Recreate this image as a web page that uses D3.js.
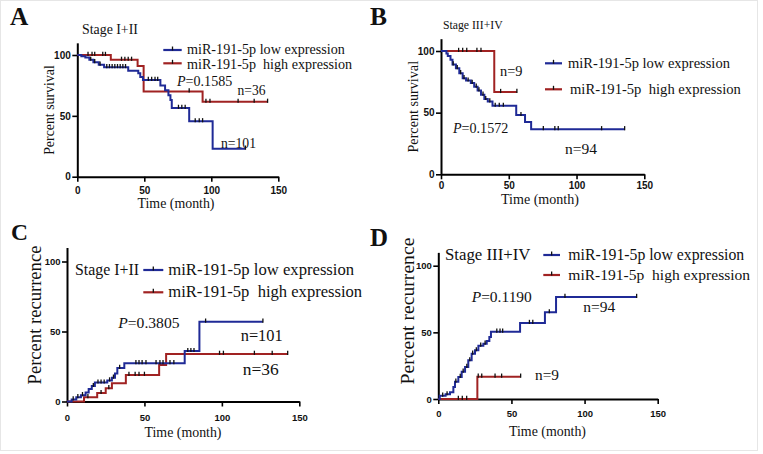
<!DOCTYPE html>
<html><head><meta charset="utf-8">
<script src="https://cdn.jsdelivr.net/npm/d3@7"></script>
<style>body{margin:0;background:#fff}svg{display:block}text{white-space:pre}</style>
</head><body><svg id="c" width="763" height="454"></svg>
<script>
// ---------------- data ----------------
const xTickValues = [0, 50, 100, 150];
const yTickValues = [0, 50, 100];
const lowLabel = "miR-191-5p low expression";
const highLabel = "miR-191-5p  high expression";
const stageEarly = "Stage I+II";
const stageLate = "Stage III+IV";

// A: survival, stage I+II
const aLowTime = [0, 3, 6, 9, 12, 16, 20, 38, 45.5, 47, 49, 62, 65.5, 68, 69.5, 70.5, 83.5, 101, 125.5];
const aLowPct  = [100, 99, 98, 96, 94, 92, 90, 87, 85, 82, 79.5, 75, 71, 67, 63, 56.5, 45.5, 23, 23];
const aLowCensor = [10, 13, 17, 22, 24, 26, 28, 30, 32, 34, 36, 53, 55.5, 58, 60, 75.5, 78, 80.5, 88, 91, 93.5, 125.5];
const aHighTime = [0, 25, 45, 49.5, 93.5, 142];
const aHighPct  = [100, 96, 91, 70, 61.5, 61.5];
const aHighCensor = [8, 11, 13, 19, 21, 33, 35.5, 38, 40.5, 83.5, 96, 99, 120, 132, 142];

// B: survival, stage III+IV
const bLowTime = [0, 4, 5, 7, 8.5, 11, 13.5, 16, 18.5, 22, 24.5, 27, 29.5, 32, 34.5, 38, 55.5, 62, 66.5, 135.5];
const bLowPct  = [100, 98, 96, 93, 89, 86, 82, 78, 76, 74, 71, 68, 64.5, 61, 59, 55.5, 48, 42.5, 36.5, 36.5];
const bLowCensor = [9, 12, 14.5, 17, 20, 23, 26, 28, 31, 33, 36, 40, 43, 46, 59, 75.5, 84, 86.5, 118.5, 135.5];
const bHighTime = [0, 39.3, 56];
const bHighPct  = [100, 66.7, 66.7];
const bHighCensor = [13, 16, 19, 26.5, 29.5, 44, 56];

// C: recurrence, stage I+II
const cLowTime = [0, 3, 6, 9, 12, 14, 16, 18, 26, 29, 31, 32.5, 37, 76, 85.5, 126.5];
const cLowPct  = [0, 1.5, 3, 4.5, 6.5, 9, 11, 13.5, 15, 17, 20, 24, 27.4, 36, 57, 57];
const cLowCensor = [4, 7, 10, 17, 20, 22, 24, 27.5, 30, 34, 44.5, 46.5, 48.5, 51, 57.5, 60, 62, 66.5, 69, 78, 80, 82, 89.5, 126.5];
const cHighTime = [0, 11, 19.5, 25, 29, 38, 59.5, 64, 142.5];
const cHighPct  = [0, 3, 6, 9.5, 13, 19, 26, 34, 34];
const cHighCensor = [13.5, 22, 27, 40, 44, 46.5, 50, 98.5, 101, 121, 132.5, 142.5];

// D: recurrence, stage III+IV
const dLowTime = [0, 1, 5, 8, 10.3, 11.4, 13.7, 16, 18.3, 20.5, 22.8, 25.1, 27.4, 30.8, 33.1, 34.9, 36, 55.9, 72.9, 80.5, 135.6];
const dLowPct  = [0, 2.5, 3.5, 5, 9, 13, 16.5, 20.5, 24, 29, 34, 36.5, 40, 41.5, 43.5, 46.5, 50.5, 57, 65, 76.5, 76.5];
const dLowCensor = [3, 6, 12, 15, 17, 19.5, 21.5, 23.5, 26, 29, 32, 40, 42.2, 44, 62.3, 64.6, 75.9, 86.6, 135.6];
const dHighTime = [0, 26.7, 56.3];
const dHighPct  = [0, 16.7, 16.7];
const dHighCensor = [13.7, 16.4, 19.4, 27.3, 29.7, 38.8, 43.3, 56.3];

// ---------------- drawing ----------------
const BLUE = "#1f2a96", RED = "#a02222";
const SERIF = "'Liberation Serif','Times New Roman',serif";
const SANS = "'Liberation Sans',Arial,sans-serif";
const svg = d3.select("#c");
svg.append("rect").attr("x", 0.5).attr("y", 0.5).attr("width", 757).attr("height", 450)
  .attr("fill", "#fff").attr("stroke", "#e6e6e6");

function fitText(sel, target) {
  const w = sel.node().getBBox().width;
  if (w > 0) sel.attr("font-size", 20 * target / w);
  return sel;
}
function label(s, x, y, w, o = {}) {
  const t = svg.append("text").attr("x", x).attr("y", y)
    .attr("font-family", o.family || SERIF).attr("font-size", 20)
    .attr("font-weight", o.bold ? "bold" : "normal").attr("fill", "#111")
    .attr("text-anchor", o.anchor || "start");
  if (o.pval) {
    t.append("tspan").attr("font-style", "italic").text("P");
    t.append("tspan").text("=" + s);
  } else t.text(s);
  fitText(t, w);
  if (o.rotate) t.attr("transform", `rotate(-90 ${x} ${y})`);
  return t;
}

const panels = [
  { x0: 77.3, x1: 278.3, y0: 176.7, y100: 55, tickFs: 10, xlabOff: 14,
    low: [aLowTime, aLowPct, aLowCensor], high: [aHighTime, aHighPct, aHighCensor] },
  { x0: 441, x1: 644.3, y0: 174.3, y100: 51, tickFs: 10, xlabOff: 12,
    low: [bLowTime, bLowPct, bLowCensor], high: [bHighTime, bHighPct, bHighCensor] },
  { x0: 67, x1: 299.3, y0: 401.5, y100: 261.5, tickFs: 9.5, xlabOff: 17,
    low: [cLowTime, cLowPct, cLowCensor], high: [cHighTime, cHighPct, cHighCensor] },
  { x0: 438.3, x1: 657.7, y0: 399, y100: 265.7, tickFs: 9.5, xlabOff: 15,
    low: [dLowTime, dLowPct, dLowCensor], high: [dHighTime, dHighPct, dHighCensor] }
];

function stepValue(times, vals, t) {
  let v = vals[0];
  for (let i = 0; i < times.length; i++) if (times[i] <= t) v = vals[i];
  return v;
}

panels.forEach(p => {
  const x = d3.scaleLinear().domain([0, 150]).range([p.x0, p.x1]);
  const y = d3.scaleLinear().domain([0, 110]).range([p.y0, p.y0 - 1.1 * (p.y0 - p.y100)]);
  const g = svg.append("g");

  const ya = g.append("g").attr("transform", `translate(${p.x0},0)`)
    .call(d3.axisLeft(y).tickValues(yTickValues).tickSize(5).tickSizeOuter(0).tickPadding(1.5));
  const xa = g.append("g").attr("transform", `translate(0,${p.y0})`)
    .call(d3.axisBottom(x).tickValues(xTickValues).tickSize(5).tickSizeOuter(0).tickPadding(p.xlabOff - 9));
  [ya, xa].forEach(a => {
    a.select(".domain").attr("stroke", "#000").attr("stroke-width", 2);
    a.selectAll(".tick line").attr("stroke", "#000").attr("stroke-width", 1.6);
    a.selectAll(".tick text").attr("font-family", SANS).attr("font-weight", "bold")
      .attr("font-size", p.tickFs).attr("fill", "#111");
  });

  const line = d3.line().x(d => x(d[0])).y(d => y(d[1])).curve(d3.curveStepAfter);
  [["high", RED], ["low", BLUE]].forEach(([k, col]) => {
    const [tt, vv, cc] = p[k];
    const pts = tt.map((t, i) => [t, vv[i]]);
    g.append("path").attr("d", line(pts)).attr("fill", "none")
      .attr("stroke", col).attr("stroke-width", 2);
    g.selectAll(null).data(cc).enter().append("line")
      .attr("x1", d => x(d)).attr("x2", d => x(d))
      .attr("y1", d => y(stepValue(tt, vv, d)) - 3.2)
      .attr("y2", d => y(stepValue(tt, vv, d)) + 1)
      .attr("stroke", "#111").attr("stroke-width", 1.3);
  });
});

function legendSample(x1, x2, yy, col) {
  svg.append("line").attr("x1", x1).attr("x2", x2).attr("y1", yy).attr("y2", yy)
    .attr("stroke", col).attr("stroke-width", 2.2);
  const m = (x1 + x2) / 2;
  svg.append("line").attr("x1", m).attr("x2", m).attr("y1", yy - 3.5).attr("y2", yy + 0.5)
    .attr("stroke", "#111").attr("stroke-width", 1.3);
}

// panel letters
label("A", 10, 25, 19, { bold: true });
label("B", 370, 25, 17, { bold: true });
label("C", 11, 240, 17, { bold: true });
label("D", 370, 246, 18, { bold: true });

// Panel A texts
label(stageEarly, 82, 33.5, 56);
legendSample(163.3, 181.7, 50, BLUE);
legendSample(163.3, 181.7, 63.3, RED);
label(lowLabel, 187, 54, 158);
label(highLabel, 187, 68.5, 165);
label("0.1585", 177, 86, 56, { pval: true });
label("n=36", 237.5, 95, 28);
label("n=101", 221, 148.3, 35);
label("Percent survival", 54, 110, 90, { rotate: true, anchor: "middle" });
label("Time (month)", 176, 207.5, 77, { anchor: "middle" });

// Panel B texts
label(stageLate, 443, 29.3, 60);
legendSample(545, 562, 63.3, BLUE);
legendSample(545, 562, 89.3, RED);
label(lowLabel, 568, 67.7, 162);
label(highLabel, 570, 94.3, 171);
label("n=9", 500, 76, 22.5);
label("0.1572", 453, 132.7, 56, { pval: true });
label("n=94", 565, 154, 32);
label("Percent survival", 418, 106.7, 92, { rotate: true, anchor: "middle" });
label("Time (month)", 540, 203.5, 78, { anchor: "middle" });

// Panel C texts
label(stageEarly, 75, 275, 64);
legendSample(143.3, 163.3, 270, BLUE);
legendSample(143.3, 163.3, 292.3, RED);
label(lowLabel, 168.3, 275, 186);
label(highLabel, 168.3, 296.7, 194);
label("0.3805", 118.3, 328.3, 62, { pval: true });
label("n=101", 240.7, 341, 42);
label("n=36", 242.7, 375, 36);
label("Percent recurrence", 41, 315, 139, { rotate: true, anchor: "middle" });
label("Time (month)", 183, 436.7, 77, { anchor: "middle" });

// Panel D texts
label(stageLate, 445, 260, 86);
legendSample(543.3, 560, 255, BLUE);
legendSample(543.3, 560, 275, RED);
label(lowLabel, 568.3, 260, 176);
label(highLabel, 568.3, 280, 182);
label("0.1190", 471.7, 302.3, 61, { pval: true });
label("n=94", 583.3, 311.7, 32);
label("n=9", 535, 380, 24);
label("Percent recurrence", 414, 311, 147, { rotate: true, anchor: "middle" });
label("Time (month)", 547.5, 435.7, 77, { anchor: "middle" });
</script>
</body></html>
